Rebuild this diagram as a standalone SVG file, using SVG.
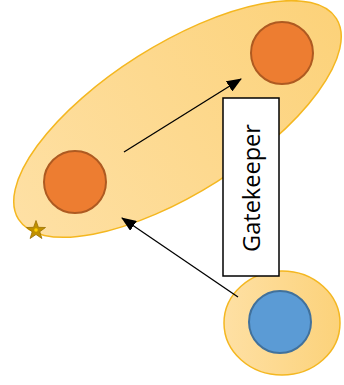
<svg xmlns="http://www.w3.org/2000/svg" width="344" height="385" viewBox="0 0 344 385">
<defs>
<marker id="ah" markerWidth="15" markerHeight="12" refX="14" refY="6" orient="auto" markerUnits="userSpaceOnUse">
<path d="M0,0 L15,6 L0,12 Z" fill="#000"/>
</marker>
<linearGradient id="g" x1="0" y1="0" x2="1" y2="0">
<stop offset="0" stop-color="#fee0a4"/>
<stop offset="1" stop-color="#fcd27a"/>
</linearGradient>
<style>
.grp{fill:url(#g);stroke:#f4b720;stroke-width:1.5}
.org{fill:#ed7d31;stroke:#ae5a21;stroke-width:2}
.blu{fill:#5b9bd5;stroke:#41719c;stroke-width:2}
.edge{stroke:#000;stroke-width:1.3;fill:none;marker-end:url(#ah)}
</style>
</defs>
<g id="group-ellipse">
<ellipse class="grp" cx="177.5" cy="119" rx="188" ry="74" transform="rotate(-32.3 177.5 119)"/>
</g>
<g id="group-circle">
<ellipse class="grp" cx="282" cy="323" rx="58" ry="52"/>
</g>
<g id="node-top">
<circle class="org" cx="282" cy="53" r="31"/>
</g>
<g id="node-left">
<circle class="org" cx="75" cy="182" r="31"/>
</g>
<g id="node-blue">
<circle class="blu" cx="280" cy="322" r="31"/>
</g>
<g id="star">
<polygon points="36,220.5 38.4,227.3 45.5,227.5 39.8,231.7 41.9,238.5 36,234.5 30.1,238.5 32.2,231.7 26.5,227.5 33.6,227.3" fill="#c09000" stroke="#9a7000" stroke-width="0.8"/>
<circle cx="36" cy="230" r="1.8" fill="#ffd000"/>
</g>
<g id="connectors">
<line class="edge" x1="124" y1="152" x2="241" y2="79"/>
<line class="edge" x1="238" y1="297" x2="122" y2="218"/>
</g>
<g id="gatekeeper">
<rect x="223" y="98" width="56" height="178" fill="#fff" stroke="#000" stroke-width="1.5"/>
<text x="0" y="0" transform="translate(259.5 188) rotate(-90)" text-anchor="middle" font-family="Open Sans, sans-serif" font-size="24" textLength="128" lengthAdjust="spacingAndGlyphs" fill="#000">Gatekeeper</text>
</g>
</svg>
